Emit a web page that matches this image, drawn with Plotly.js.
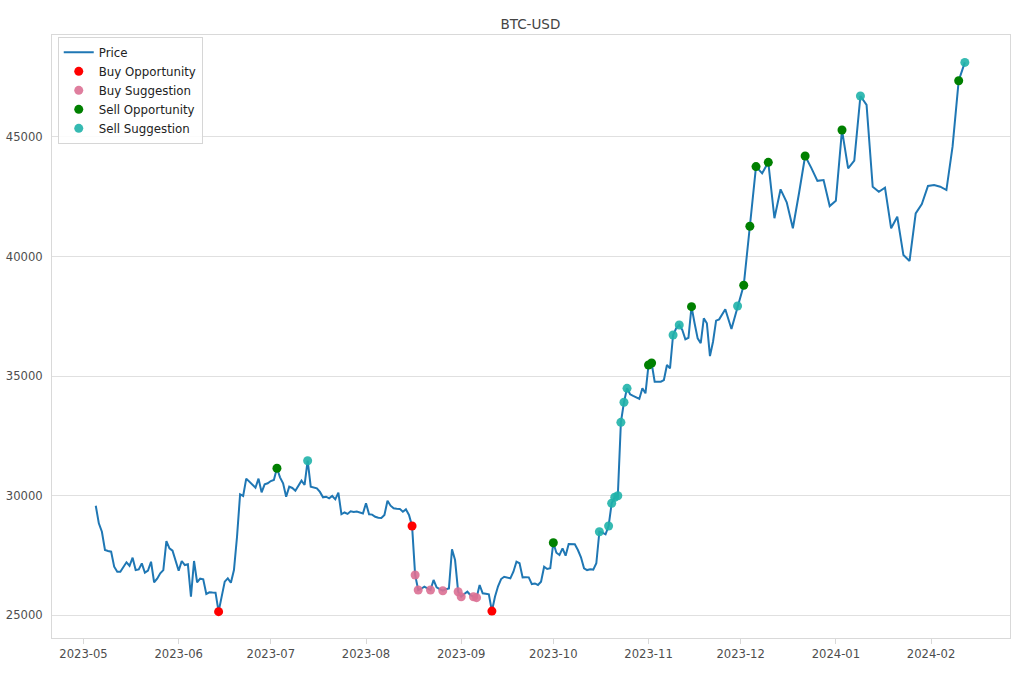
<!DOCTYPE html>
<html>
<head>
<meta charset="utf-8">
<script src="https://cdn.plot.ly/plotly-3.0.1.min.js"></script>
<style>
  html, body { margin: 0; padding: 0; background: #ffffff; }
  #chart { width: 1020px; height: 680px; }
</style>
</head>
<body>
<div id="chart"></div>
<script>
// ---- Data ----
const dates = [
  '2023-05-05','2023-05-06','2023-05-07','2023-05-08','2023-05-09','2023-05-10','2023-05-11','2023-05-12','2023-05-13','2023-05-14',
  '2023-05-15','2023-05-16','2023-05-17','2023-05-18','2023-05-19','2023-05-20','2023-05-21','2023-05-22','2023-05-23','2023-05-24',
  '2023-05-25','2023-05-26','2023-05-27','2023-05-28','2023-05-29','2023-05-30','2023-05-31',
  '2023-06-01','2023-06-02','2023-06-03','2023-06-04','2023-06-05','2023-06-06','2023-06-07','2023-06-08','2023-06-09','2023-06-10',
  '2023-06-11','2023-06-12','2023-06-13','2023-06-14','2023-06-15','2023-06-16','2023-06-17','2023-06-18','2023-06-19','2023-06-20',
  '2023-06-21','2023-06-22','2023-06-23','2023-06-24','2023-06-25','2023-06-26','2023-06-27','2023-06-28','2023-06-29','2023-06-30',
  '2023-07-01','2023-07-02','2023-07-03','2023-07-04','2023-07-05','2023-07-06','2023-07-07','2023-07-08','2023-07-09','2023-07-10',
  '2023-07-11','2023-07-12','2023-07-13','2023-07-14','2023-07-15','2023-07-16','2023-07-17','2023-07-18','2023-07-19','2023-07-20',
  '2023-07-21','2023-07-22','2023-07-23','2023-07-24','2023-07-25','2023-07-26','2023-07-27','2023-07-28','2023-07-29','2023-07-30','2023-07-31',
  '2023-08-01','2023-08-02','2023-08-03','2023-08-04','2023-08-05','2023-08-06','2023-08-07','2023-08-08','2023-08-09','2023-08-10',
  '2023-08-11','2023-08-12','2023-08-13','2023-08-14','2023-08-15','2023-08-16','2023-08-17','2023-08-18','2023-08-19','2023-08-20',
  '2023-08-21','2023-08-22','2023-08-23','2023-08-24','2023-08-25','2023-08-26','2023-08-27','2023-08-28','2023-08-29','2023-08-30','2023-08-31',
  '2023-09-01','2023-09-02','2023-09-03','2023-09-04','2023-09-05','2023-09-06','2023-09-07','2023-09-08','2023-09-09','2023-09-10',
  '2023-09-11','2023-09-12','2023-09-13','2023-09-14','2023-09-15','2023-09-16','2023-09-17','2023-09-18','2023-09-19','2023-09-20',
  '2023-09-21','2023-09-22','2023-09-23','2023-09-24','2023-09-25','2023-09-26','2023-09-27','2023-09-28','2023-09-29','2023-09-30',
  '2023-10-01','2023-10-02','2023-10-03','2023-10-04','2023-10-05','2023-10-06','2023-10-07','2023-10-08','2023-10-09','2023-10-10',
  '2023-10-11','2023-10-12','2023-10-13','2023-10-14','2023-10-15','2023-10-16','2023-10-17','2023-10-18','2023-10-19','2023-10-20',
  '2023-10-21','2023-10-22','2023-10-23','2023-10-24','2023-10-25','2023-10-26','2023-10-27','2023-10-28','2023-10-29','2023-10-30','2023-10-31',
  '2023-11-01','2023-11-02','2023-11-03','2023-11-05','2023-11-06','2023-11-07','2023-11-08','2023-11-09','2023-11-10','2023-11-11',
  '2023-11-12','2023-11-13','2023-11-14','2023-11-15','2023-11-16','2023-11-17','2023-11-18','2023-11-19','2023-11-20','2023-11-21',
  '2023-11-22','2023-11-23','2023-11-24','2023-11-26','2023-11-28','2023-11-30',
  '2023-12-02','2023-12-04','2023-12-06','2023-12-08','2023-12-10','2023-12-12','2023-12-14','2023-12-16','2023-12-18','2023-12-20',
  '2023-12-22','2023-12-24','2023-12-26','2023-12-28','2023-12-30',
  '2024-01-01','2024-01-03','2024-01-05','2024-01-07','2024-01-09','2024-01-11','2024-01-13','2024-01-15','2024-01-17','2024-01-19',
  '2024-01-21','2024-01-23','2024-01-25','2024-01-27','2024-01-29','2024-01-31',
  '2024-02-02','2024-02-04','2024-02-06','2024-02-08','2024-02-10','2024-02-12'
];
const prices = [
  29573,28837,28485,27720,27680,27650,27020,26810,26810,26995,
  27205,27060,27400,26880,26910,27160,26770,26855,27230,26370,
  26520,26745,26880,28095,27790,27690,27300,
  26855,27260,27090,27120,25765,27260,26370,26520,26490,25880,
  25950,25940,25935,25140,25765,26395,26535,26350,26880,28275,
  30050,29980,30705,30580,30470,30325,30705,30135,30470,30510,
  30605,30650,31140,30760,30510,29950,30370,30315,30200,30410,
  30620,30440,31455,30370,30340,30300,30150,29925,29950,29880,
  29980,29840,30120,29215,29290,29230,29340,29310,29330,29290,29250,
  29675,29215,29200,29110,29070,29060,29185,29780,29575,29465,
  29450,29440,29320,29420,29185,28725,26675,26045,26100,26185,
  26115,26045,26465,26160,26080,26015,26080,26115,27750,27300,25975,
  25765,25880,25975,25835,25765,25725,26255,25910,25890,25865,
  25165,25765,26200,26505,26600,26560,26535,26810,27230,27165,
  26575,26580,26575,26295,26320,26255,26395,27020,26925,26955,
  28025,27605,27510,27790,27480,27970,27970,27960,27720,27415,
  26955,26880,26910,26900,27165,28485,28445,28375,28725,29675,
  29925,29990,33060,33900,34485,34235,34165,34100,34040,34485,34275,
  35460,35545,34760,34760,34830,35460,35320,36715,36995,37135,
  36925,36535,36600,37900,37205,36575,36370,37415,37205,35835,
  36435,37315,37370,37790,36965,37930,
  38795,41265,43760,43480,43940,41600,42810,42265,41180,42645,
  44205,43710,43165,43200,42110,
  42335,45290,43690,44010,46715,46340,42920,42710,42880,41180,
  41665,40060,39815,41805,42195,42950,
  42990,42920,42780,44595,47355,48120
];

const buyOpportunity = ['2023-06-14','2023-08-16','2023-09-11'];
const buySuggestion = ['2023-08-17','2023-08-18','2023-08-22','2023-08-26','2023-08-31','2023-09-01','2023-09-05','2023-09-06'];
const sellOpportunity = ['2023-07-03','2023-10-01','2023-11-01','2023-11-02','2023-11-15','2023-12-02','2023-12-04','2023-12-06',
                         '2023-12-10','2023-12-22','2024-01-03','2024-02-10'];
const sellSuggestion = ['2023-07-13','2023-10-16','2023-10-19','2023-10-20','2023-10-21','2023-10-22','2023-10-23','2023-10-24',
                        '2023-10-25','2023-11-09','2023-11-11','2023-11-30','2024-01-09','2024-02-12'];

const yTicks = [25000, 30000, 35000, 40000, 45000];

function priceAt(list) { return list.map(d => prices[dates.indexOf(d)]); }

const FONT = 'DejaVu Sans, Liberation Sans, sans-serif';

function markerTrace(name, list, color, opacity) {
  return {
    type: 'scatter', mode: 'markers', name: name,
    x: list, y: priceAt(list),
    marker: { color: color, size: 9, opacity: opacity, line: { width: 0 } },
    hoverinfo: 'skip'
  };
}

const traces = [
  { type: 'scatter', mode: 'lines', name: 'Price', x: dates, y: prices,
    line: { color: '#1f77b4', width: 2 }, hoverinfo: 'skip' },
  markerTrace('Buy Opportunity', buyOpportunity, '#ff0000', 1),
  markerTrace('Buy Suggestion', buySuggestion, '#db7093', 0.9),
  markerTrace('Sell Opportunity', sellOpportunity, '#008000', 1),
  markerTrace('Sell Suggestion', sellSuggestion, '#20b2aa', 0.9)
];

const layout = {
  width: 1020, height: 680,
  paper_bgcolor: '#ffffff', plot_bgcolor: '#ffffff',
  margin: { l: 52, r: 10, t: 35, b: 42 },
  font: { family: FONT, size: 11.5, color: '#444444' },
  title: { text: 'BTC-USD', x: 0.52, xanchor: 'center', y: 0.965, yanchor: 'middle',
           font: { family: FONT, size: 13.5, color: '#444444' } },
  showlegend: true,
  legend: { x: 0.006, y: 0.997, xanchor: 'left', yanchor: 'top',
            bgcolor: 'rgba(255,255,255,0.85)', bordercolor: '#d6d6d6', borderwidth: 1,
            font: { family: FONT, size: 11.8, color: '#222222' }, itemwidth: 30,
            tracegroupgap: 0 },
  xaxis: {
    type: 'date',
    range: ['2023-04-20 18:00', '2024-02-26 17:00'],
    tick0: '2023-05-01', dtick: 'M1', tickformat: '%Y-%m',
    showgrid: false, zeroline: false,
    showline: true, mirror: true, linecolor: '#d9d9d9', linewidth: 1,
    ticks: 'outside', ticklen: 5, tickcolor: '#d9d9d9',
    tickfont: { family: FONT, size: 11.6, color: '#4d4d4d' }
  },
  yaxis: {
    range: [24038, 49267],
    tickvals: yTicks, ticktext: yTicks.map(v => String(v)),
    showgrid: true, gridcolor: '#e0e0e0', gridwidth: 1, zeroline: false,
    showline: true, mirror: true, linecolor: '#d9d9d9', linewidth: 1,
    ticks: '', ticklabelstandoff: 6,
    tickfont: { family: FONT, size: 11.6, color: '#4d4d4d' }
  }
};

Plotly.newPlot('chart', traces, layout, { displayModeBar: false, staticPlot: true });
</script>
</body>
</html>
